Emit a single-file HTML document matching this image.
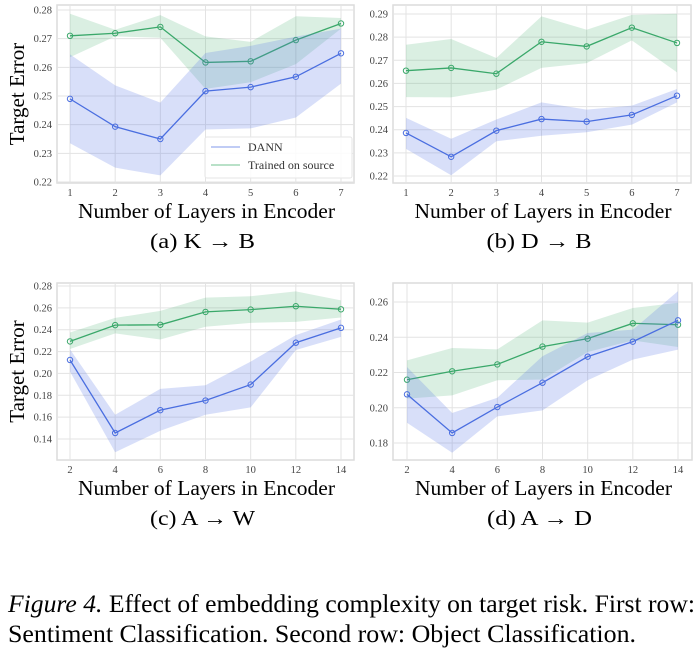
<!DOCTYPE html>
<html><head><meta charset="utf-8">
<style>
body{margin:0;background:#fff;width:700px;height:658px;overflow:hidden;font-family:"Liberation Serif",serif;}
svg{position:absolute;left:0;top:0}
</style></head>
<body>
<svg id="fig" width="700" height="658" xmlns="http://www.w3.org/2000/svg" font-family="Liberation Serif, serif"></svg>
<script>
// Panel a (K -> B)
const catsA=[1,2,3,4,5,6,7];
const dannA=[.249,.2393,.235,.2517,.2531,.2567,.2649];
const dannALo=[.2335,.225,.2223,.2383,.2387,.2425,.2543];
const dannAHi=[.2645,.2537,.2477,.265,.2675,.2707,.2735];
const srcA=[.271,.2719,.2741,.2617,.2621,.2695,.2753];
const srcALo=[.2635,.2708,.2703,.2525,.2548,.2611,.2735];
const srcAHi=[.2787,.2731,.2782,.2708,.2689,.2778,.2772];
const ticksA=[.22,.23,.24,.25,.26,.27,.28];
// Panel b (D -> B)
const catsB=[1,2,3,4,5,6,7];
const dannB=[.2386,.2283,.2396,.2446,.2435,.2464,.2547];
const dannBLo=[.2317,.2203,.235,.2374,.2389,.2422,.2518];
const dannBHi=[.2451,.2361,.2444,.2518,.2487,.2504,.2576];
const srcB=[.2655,.2667,.2642,.278,.276,.2841,.2775];
const srcBLo=[.2541,.254,.2573,.2667,.2688,.2786,.2648];
const srcBHi=[.2767,.2792,.271,.289,.2832,.2896,.2901];
const ticksB=[.22,.23,.24,.25,.26,.27,.28,.29];
// Panel c (A -> W)
const catsC=[2,4,6,8,10,12,14];
const dannC=[.2123,.1455,.1664,.1752,.1898,.2281,.2417];
const dannCLo=[.2017,.1279,.1476,.1622,.1689,.2214,.2335];
const dannCHi=[.222,.1622,.1859,.1892,.2108,.2351,.2493];
const srcC=[.2293,.2442,.2445,.2563,.2584,.2615,.2587];
const srcCLo=[.2223,.2366,.2311,.2427,.2463,.2472,.2512];
const srcCHi=[.2375,.2508,.2572,.2694,.2706,.2751,.2669];
const ticksC=[.14,.16,.18,.20,.22,.24,.26,.28];
// Panel d (A -> D)
const catsD=[2,4,6,8,10,12,14];
const dannD=[.2076,.1857,.2004,.2142,.229,.2375,.2496];
const dannDLo=[.1915,.1745,.1951,.1985,.2156,.2273,.233];
const dannDHi=[.2231,.197,.2057,.2292,.2424,.2443,.2662];
const srcD=[.2159,.2207,.2246,.2347,.2392,.2479,.2471];
const srcDLo=[.2052,.207,.2156,.216,.2316,.2382,.2345];
const srcDHi=[.2269,.2339,.2331,.2496,.2483,.2566,.2596];
const ticksD=[.18,.20,.22,.24,.26];

const NS="http://www.w3.org/2000/svg";
const svg=document.getElementById('fig');
function mk(tag,attrs,parent){const e=document.createElementNS(NS,tag);for(const k in attrs)e.setAttribute(k,attrs[k]);(parent||svg).appendChild(e);return e;}

const BLUE="#4a6ee0",GREEN="#3aa86a";
function panel(name,box,cats,xr,yr,ticks,dec,dann,dLo,dHi,src,sLo,sHi,caption,ylabel){
  const g=mk('g',{});
  
  
  const xs=v=>box.x0+(v-xr[0])/(xr[1]-xr[0])*(box.x1-box.x0);
  const ys=v=>box.y0+(yr[1]-v)/(yr[1]-yr[0])*(box.y1-box.y0);
  const bg=mk('rect',{x:box.l,y:box.t,width:box.r-box.l,height:box.b-box.t,fill:'#fff',stroke:'#dcdcdc','stroke-width':1.5},g);
  
  
  ticks.forEach(t=>{
    const y=ys(t);
    mk('line',{x1:box.l,x2:box.r,y1:y,y2:y,stroke:'#e3e3e3','stroke-width':1},g);
    const tx=mk('text',{x:box.l-5,y:y+3.5,'font-size':10.5,fill:'#444','text-anchor':'end'},g);
    tx.textContent=t.toFixed(dec);
    
    
  });
  cats.forEach(c=>{
    const x=xs(c);
    mk('line',{x1:x,x2:x,y1:box.t,y2:box.b,stroke:'#e3e3e3','stroke-width':1},g);
    const tx=mk('text',{x:x,y:box.b+13,'font-size':10.5,fill:'#444','text-anchor':'middle'},g);
    tx.textContent=c;
    
    
  });
  function series(vals,lo,hi,col,fill,nm){
    let d='';
    cats.forEach((c,i)=>{d+=(i?'L':'M')+xs(c)+','+ys(hi[i]);});
    for(let i=cats.length-1;i>=0;i--)d+='L'+xs(cats[i])+','+ys(lo[i]);
    const band=mk('path',{d:d+'Z',fill:fill,stroke:'none'},g);
    
    
    const pts=cats.map((c,i)=>xs(c)+','+ys(vals[i])).join(' ');
    const ln=mk('polyline',{points:pts,fill:'none',stroke:col,'stroke-width':1.3},g);
    
    
    cats.forEach((c,i)=>{
      const p=mk('circle',{cx:xs(c),cy:ys(vals[i]),r:2.7,fill:'none',stroke:col,'stroke-width':1},g);
      
      
    });
  }
  series(src,sLo,sHi,GREEN,'rgba(70,175,110,0.2)','trained-on-source');
  series(dann,dLo,dHi,BLUE,'rgba(90,120,230,0.24)','dann');
  const cx=(box.l+box.r)/2;
  const xl=mk('text',{x:cx-257/2+1,y:box.b+35,'font-size':21,fill:'#000',textLength:257,lengthAdjust:'spacingAndGlyphs'},g);
  xl.textContent='Number of Layers in Encoder';
  
  
  const cp=mk('text',{x:cx-105/2-3,y:box.b+65,'font-size':21,fill:'#000',textLength:105,lengthAdjust:'spacingAndGlyphs'},g);
  cp.textContent=caption;
  
  
  if(ylabel){
    const yl=mk('text',{x:0,y:0,'font-size':21,fill:'#000','text-anchor':'middle',transform:`translate(24,${(box.t+box.b)/2}) rotate(-90)`},g);
    yl.textContent='Target Error';
    
    
  }
  return g;
}
panel('panel-k-to-b',{l:57,r:354,t:5,b:183,x0:70,x1:341,y0:10,y1:182},catsA,[1,7],[.22,.28],ticksA,2,dannA,dannALo,dannAHi,srcA,srcALo,srcAHi,'(a) K → B',true);
panel('panel-d-to-b',{l:393,r:691,t:5,b:183,x0:406,x1:677,y0:14,y1:176},catsB,[1,7],[.22,.29],ticksB,2,dannB,dannBLo,dannBHi,srcB,srcBLo,srcBHi,'(b) D → B',false);
panel('panel-a-to-w',{l:57,r:354,t:283,b:460,x0:70,x1:341,y0:286,y1:439},catsC,[2,14],[.14,.28],ticksC,2,dannC,dannCLo,dannCHi,srcC,srcCLo,srcCHi,'(c) A → W',true);
panel('panel-a-to-d',{l:393,r:692,t:283,b:460,x0:407,x1:678,y0:302,y1:443},catsD,[2,14],[.18,.26],ticksD,2,dannD,dannDLo,dannDHi,srcD,srcDLo,srcDHi,'(d) A → D',false);

// legend in panel a
const lg=mk('g',{});


mk('rect',{x:205,y:137,width:147,height:41,fill:'rgba(255,255,255,0.85)',stroke:'#e6e6e6',rx:2},lg);
mk('line',{x1:211,x2:240,y1:147,y2:147,stroke:'rgba(90,120,230,0.5)','stroke-width':1.5},lg);
mk('line',{x1:211,x2:240,y1:165,y2:165,stroke:'rgba(70,175,110,0.5)','stroke-width':1.5},lg);
const l1=mk('text',{x:248,y:151,'font-size':12,fill:'#333'},lg);l1.textContent='DANN';


const l2=mk('text',{x:248,y:169,'font-size':12,fill:'#333'},lg);l2.textContent='Trained on source';



// figure caption
const c1=mk('text',{x:8,y:612,'font-size':25,fill:'#000',textLength:687,lengthAdjust:'spacingAndGlyphs'});
c1.innerHTML='<tspan font-style="italic">Figure 4.</tspan> Effect of embedding complexity on target risk. First row:';


const c2=mk('text',{x:8,y:642,'font-size':25,fill:'#000',textLength:628,lengthAdjust:'spacingAndGlyphs'});
c2.textContent='Sentiment Classification. Second row: Object Classification.';


</script>
</body></html>
